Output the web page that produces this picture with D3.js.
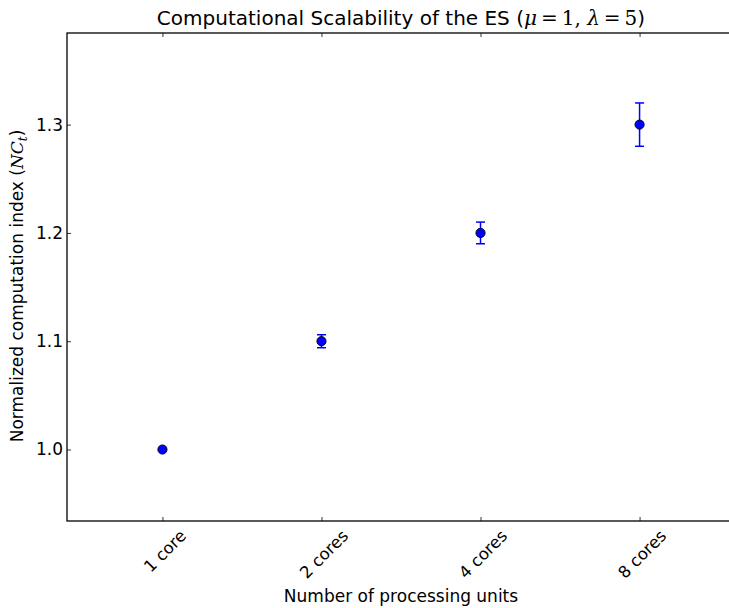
<!DOCTYPE html>
<html>
<head>
<meta charset="utf-8">
<script src="https://cdn.jsdelivr.net/npm/d3@7"></script>
<style>
  body { margin: 0; background: #fff; }
  text { font-family: "DejaVu Sans", sans-serif; fill: #000; }
</style>
</head>
<body>
<svg id="chart" width="729" height="608"></svg>
<script>
// Scalability measurements: normalized computation index per core count
const categories = ["1 core", "2 cores", "4 cores", "8 cores"];
const positions = [1, 2, 3, 4];
const values = [1.0, 1.1, 1.2, 1.3];
const errors = [0.0, 0.006, 0.01, 0.02];
const yTicks = [1.0, 1.1, 1.2, 1.3];

const svg = d3.select("#chart");
const frame = { left: 67, top: 33, right: 735, bottom: 521 };

const x = d3.scaleLinear().domain([0.4, 4.6]).range([frame.left, frame.right]);
const y = d3.scaleLinear().domain([0.934, 1.3846]).range([frame.bottom, frame.top]);

const blue = "#0000ff";

// Left axis: inward ticks with labels
const yAxis = svg.append("g")
  .attr("transform", `translate(${frame.left},0)`)
  .call(d3.axisLeft(y).tickValues(yTicks).tickFormat(d3.format(".1f"))
    .tickSizeInner(-4).tickSizeOuter(0).tickPadding(4));
yAxis.select(".domain").remove();
yAxis.selectAll("text").style("font-size", "17px").style("font-family", "DejaVu Sans");
yAxis.selectAll("line").attr("stroke", "#000").attr("stroke-width", 0.8);

// Right axis ticks (inward, no labels)
const yAxisR = svg.append("g")
  .attr("transform", `translate(${frame.right},0)`)
  .call(d3.axisRight(y).tickValues(yTicks).tickFormat("")
    .tickSizeInner(-4).tickSizeOuter(0));
yAxisR.select(".domain").remove();
yAxisR.selectAll("line").attr("stroke", "#000").attr("stroke-width", 0.8);

// Bottom axis: inward ticks, rotated category labels
const xAxis = svg.append("g")
  .attr("transform", `translate(0,${frame.bottom})`)
  .call(d3.axisBottom(x).tickValues(positions).tickFormat((d, i) => categories[i])
    .tickSizeInner(-4).tickSizeOuter(0));
xAxis.select(".domain").remove();
xAxis.selectAll("line").attr("stroke", "#000").attr("stroke-width", 0.8);
xAxis.selectAll("text")
  .style("font-size", "16.5px").style("font-family", "DejaVu Sans")
  .each(function(d) {
    const t = d3.select(this);
    const w = this.getComputedTextLength();
    const h = 16.5;
    const half = (w + h) * Math.SQRT1_2 / 2;
    t.attr("x", 0).attr("y", 0).attr("dy", "0.35em")
     .attr("text-anchor", "middle")
     .attr("transform", `translate(2,${6 + half}) rotate(-45)`);
  });

// Top axis ticks (inward)
const xAxisT = svg.append("g")
  .attr("transform", `translate(0,${frame.top})`)
  .call(d3.axisTop(x).tickValues(positions).tickFormat("")
    .tickSizeInner(-4).tickSizeOuter(0));
xAxisT.select(".domain").remove();
xAxisT.selectAll("line").attr("stroke", "#000").attr("stroke-width", 0.8);

// Axes frame
svg.append("rect")
  .attr("x", frame.left).attr("y", frame.top)
  .attr("width", frame.right - frame.left).attr("height", frame.bottom - frame.top)
  .attr("fill", "none").attr("stroke", "#000").attr("stroke-width", 1.3);

// Error bars
const pts = positions.map((p, i) => ({ p, v: values[i], e: errors[i] }));
const eb = svg.append("g").attr("stroke", blue).attr("stroke-width", 1.5);
pts.filter(d => d.e > 0).forEach(d => {
  const cx = x(d.p);
  eb.append("line").attr("x1", cx).attr("x2", cx).attr("y1", y(d.v - d.e)).attr("y2", y(d.v + d.e));
  [d.v - d.e, d.v + d.e].forEach(v => {
    eb.append("line").attr("x1", cx - 4.5).attr("x2", cx + 4.5).attr("y1", y(v)).attr("y2", y(v));
  });
});

// Markers
svg.append("g").selectAll("circle").data(pts).join("circle")
  .attr("cx", d => x(d.p)).attr("cy", d => y(d.v)).attr("r", 4.6)
  .attr("fill", blue).attr("stroke", "#000").attr("stroke-width", 0.9);

// Title with math symbols
const title = svg.append("text")
  .attr("x", (frame.left + frame.right) / 2).attr("y", 25)
  .attr("text-anchor", "middle").style("font-size", "20px");
title.append("tspan").text("Computational Scalability of the ES (");
title.append("tspan").style("font-family", "DejaVu Serif").style("font-style", "italic").text("μ");
title.append("tspan").style("font-family", "DejaVu Serif").text("\u2009=\u20091, ");
title.append("tspan").style("font-family", "DejaVu Serif").style("font-style", "italic").text("λ");
title.append("tspan").style("font-family", "DejaVu Serif").text("\u2009=\u20095");
title.append("tspan").text(")");

// X axis label
svg.append("text")
  .attr("x", (frame.left + frame.right) / 2).attr("y", 602)
  .attr("text-anchor", "middle").style("font-size", "17px")
  .text("Number of processing units");

// Y axis label
const yl = svg.append("text")
  .attr("transform", `translate(23,${(frame.top + frame.bottom) / 2 + 9}) rotate(-90)`)
  .attr("text-anchor", "middle").style("font-size", "17px");
yl.append("tspan").text("Normalized computation index (");
yl.append("tspan").style("font-family", "DejaVu Serif").style("font-style", "italic").text("NC");
yl.append("tspan").style("font-family", "DejaVu Serif").style("font-style", "italic")
  .style("font-size", "12px").attr("dy", "4").text("t");
yl.append("tspan").attr("dy", "-4").text(")");
</script>
</body>
</html>
